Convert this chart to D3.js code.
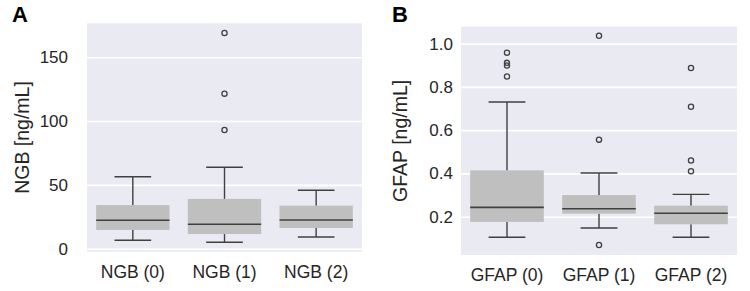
<!DOCTYPE html>
<html>
<head>
<meta charset="utf-8">
<script src="https://cdn.jsdelivr.net/npm/d3@7"></script>
<style>
  body { margin: 0; background: #fff; }
  text { font-family: "Liberation Sans", Arial, sans-serif; fill: #262626; }
</style>
</head>
<body>
<div id="chart"></div>
<script>
// panel A - NGB
var ngbNames = ["NGB (0)", "NGB (1)", "NGB (2)"];
var ngbLow = [6.6, 5.0, 9.2];
var ngbQ1 = [14.7, 11.5, 16.2];
var ngbMed = [22.3, 19.1, 22.5];
var ngbQ3 = [34.2, 39.0, 33.7];
var ngbHigh = [56.4, 63.8, 45.8];
var ngbOut = [[], [169, 121.5, 93], []];
var ngbTicks = [0, 50, 100, 150];

// panel B - GFAP
var gfapNames = ["GFAP (0)", "GFAP (1)", "GFAP (2)"];
var gfapLow = [0.105, 0.148, 0.105];
var gfapQ1 = [0.176, 0.214, 0.165];
var gfapMed = [0.243, 0.237, 0.216];
var gfapQ3 = [0.414, 0.300, 0.251];
var gfapHigh = [0.730, 0.402, 0.303];
var gfapOut = [[0.958, 0.911, 0.899, 0.848], [1.036, 0.556, 0.069], [0.887, 0.708, 0.46, 0.41]];
var gfapTicks = [0.2, 0.4, 0.6, 0.8, 1.0];

var w = 750, h = 291;
var svg = d3.select("#chart").append("svg")
  .attr("width", w)
  .attr("height", h);

function drawPanel(opt) {
  var g = svg.append("g");

  var x = d3.scaleBand()
    .domain(opt.names)
    .range([opt.left, opt.right])
    .padding(0);

  var y = d3.scaleLinear()
    .domain(opt.domain)
    .range([opt.bottom, opt.top]);

  // background
  g.append("rect")
    .attr("x", opt.left)
    .attr("y", opt.top)
    .attr("width", opt.right - opt.left)
    .attr("height", opt.bottom - opt.top)
    .attr("fill", "#eaeaf2");

  // grid + y ticks
  var yAxis = d3.axisLeft(y)
    .tickValues(opt.ticks)
    .tickSize(-(opt.right - opt.left))
    .tickPadding(opt.tickPad)
    .tickFormat(opt.fmt);
  var ya = g.append("g")
    .attr("transform", "translate(" + opt.left + ",0)")
    .call(yAxis);
  ya.select(".domain").remove();
  ya.selectAll(".tick line").attr("stroke", "#fff").attr("stroke-width", 1.6);
  ya.selectAll(".tick text")
    .attr("font-size", "17px")
    .attr("fill", "#262626")
    .attr("font-family", "Liberation Sans, Arial, sans-serif");

  // x labels
  var xAxis = d3.axisBottom(x).tickSize(0).tickPadding(14);
  var xa = g.append("g")
    .attr("transform", "translate(0," + opt.bottom + ")")
    .call(xAxis);
  xa.select(".domain").remove();
  xa.selectAll(".tick text")
    .attr("font-size", "17.5px")
    .attr("fill", "#262626")
    .attr("font-family", "Liberation Sans, Arial, sans-serif");

  var bw = x.bandwidth() * 0.8;
  var stroke = "#404040";

  opt.names.forEach(function(n, i) {
    var cx = x(n) + x.bandwidth() / 2;

    // whiskers
    g.append("line")
      .attr("x1", cx).attr("x2", cx)
      .attr("y1", y(opt.high[i])).attr("y2", y(opt.q3[i]))
      .attr("stroke", stroke).attr("stroke-width", 1.4);
    g.append("line")
      .attr("x1", cx).attr("x2", cx)
      .attr("y1", y(opt.q1[i])).attr("y2", y(opt.low[i]))
      .attr("stroke", stroke).attr("stroke-width", 1.4);
    // caps
    [opt.high[i], opt.low[i]].forEach(function(v) {
      g.append("line")
        .attr("x1", cx - bw / 4).attr("x2", cx + bw / 4)
        .attr("y1", y(v)).attr("y2", y(v))
        .attr("stroke", stroke).attr("stroke-width", 1.4);
    });

    // box
    g.append("rect")
      .attr("x", cx - bw / 2)
      .attr("y", y(opt.q3[i]))
      .attr("width", bw)
      .attr("height", y(opt.q1[i]) - y(opt.q3[i]))
      .attr("fill", "#bfbfbf");

    // median
    g.append("line")
      .attr("x1", cx - bw / 2).attr("x2", cx + bw / 2)
      .attr("y1", y(opt.med[i])).attr("y2", y(opt.med[i]))
      .attr("stroke", stroke).attr("stroke-width", 1.6);

    // outliers
    g.selectAll(null)
      .data(opt.out[i])
      .enter()
      .append("circle")
      .attr("cx", cx)
      .attr("cy", function(d) { return y(d); })
      .attr("r", 2.6)
      .attr("fill", "none")
      .attr("stroke", stroke)
      .attr("stroke-width", 1.3);
  });

  // y label
  g.append("text")
    .attr("transform", "translate(" + opt.labelX + "," + ((opt.top + opt.bottom) / 2) + ") rotate(-90)")
    .attr("text-anchor", "middle")
    .attr("font-size", "19.5px")
    .text(opt.ylabel);

  // panel letter
  g.append("text")
    .attr("x", opt.letterX)
    .attr("y", 21.7)
    .attr("font-size", "22px")
    .attr("font-weight", "bold")
    .style("fill", "#000")
    .text(opt.letter);
}

drawPanel({
  names: ngbNames, low: ngbLow, q1: ngbQ1, med: ngbMed, q3: ngbQ3, high: ngbHigh, out: ngbOut,
  ticks: ngbTicks, fmt: d3.format("d"),
  domain: [-2.35, 176.6],
  left: 87, right: 362, top: 23.3, bottom: 251.7,
  tickPad: 19, labelX: 29, letterX: 12, letter: "A",
  ylabel: "NGB [ng/mL]"
});

drawPanel({
  names: gfapNames, low: gfapLow, q1: gfapQ1, med: gfapMed, q3: gfapQ3, high: gfapHigh, out: gfapOut,
  ticks: gfapTicks, fmt: d3.format(".1f"),
  domain: [0.023, 1.078],
  left: 461, right: 737, top: 26.7, bottom: 255,
  tickPad: 8, labelX: 407, letterX: 392, letter: "B",
  ylabel: "GFAP [ng/mL]"
});
</script>
</body>
</html>
